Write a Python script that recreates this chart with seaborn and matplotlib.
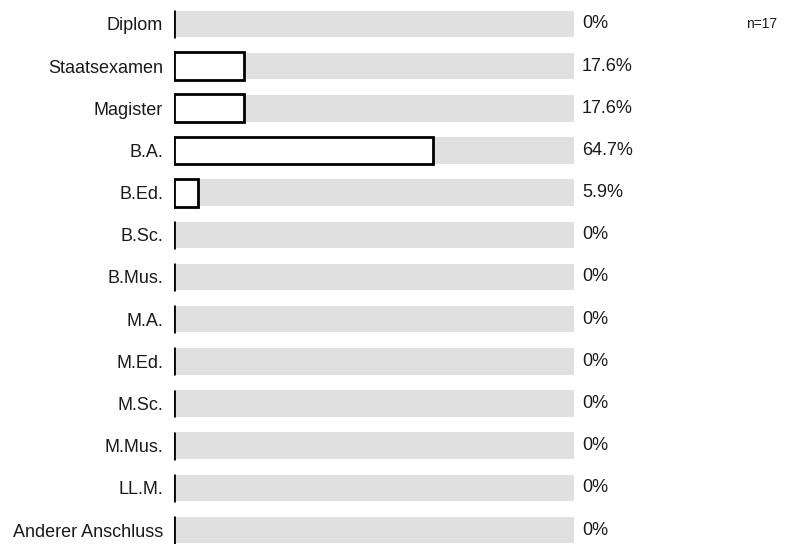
import matplotlib
matplotlib.use("Agg")
import matplotlib.pyplot as plt
import seaborn as sns
import pandas as pd

categories = ["Diplom", "Staatsexamen", "Magister", "B.A.", "B.Ed.", "B.Sc.",
              "B.Mus.", "M.A.", "M.Ed.", "M.Sc.", "M.Mus.", "LL.M.",
              "Anderer Anschluss"]
percent = [0, 17.6, 17.6, 64.7, 5.9, 0, 0, 0, 0, 0, 0, 0, 0]
full_scale = [100] * len(categories)
n_total = 17

sns.set_theme(style="white")
plt.rcParams["font.family"] = ["Liberation Sans", "DejaVu Sans"]

df = pd.DataFrame({"Abschluss": categories, "Anteil": percent, "Skala": full_scale})

fig = plt.figure(figsize=(7.85, 5.44), dpi=100)
ax = fig.add_axes([174 / 785, 0, 400 / 785, 1])

# grey track for the full 0-100 % range
sns.barplot(data=df, y="Abschluss", x="Skala", order=categories, color="#e0e0e0",
            width=0.63, linewidth=0, ax=ax, orient="h")
# outlined bars for the actual shares
sns.barplot(data=df, y="Abschluss", x="Anteil", order=categories, color="white",
            edgecolor="black", linewidth=2.0, width=0.66, ax=ax, orient="h")

for i, v in enumerate(percent):
    ax.text(102.0, i, f"{v:g}%", va="center", ha="left", fontsize=13, color="#1a1a1a")

ax.set_xlim(0, 100)
ax.set_ylim(12 + 14 / 42.17, -24 / 42.17)
ax.set_xlabel("")
ax.set_ylabel("")
ax.set_xticks([])
ax.tick_params(axis="y", length=0, pad=8, labelsize=13, labelcolor="#1a1a1a")
for s in ax.spines.values():
    s.set_visible(False)

fig.text(746 / 785, 1 - 24 / 544, f"n={n_total}", fontsize=10, va="center",
         ha="left", color="#1a1a1a")

fig.savefig("out.png", dpi=100)
